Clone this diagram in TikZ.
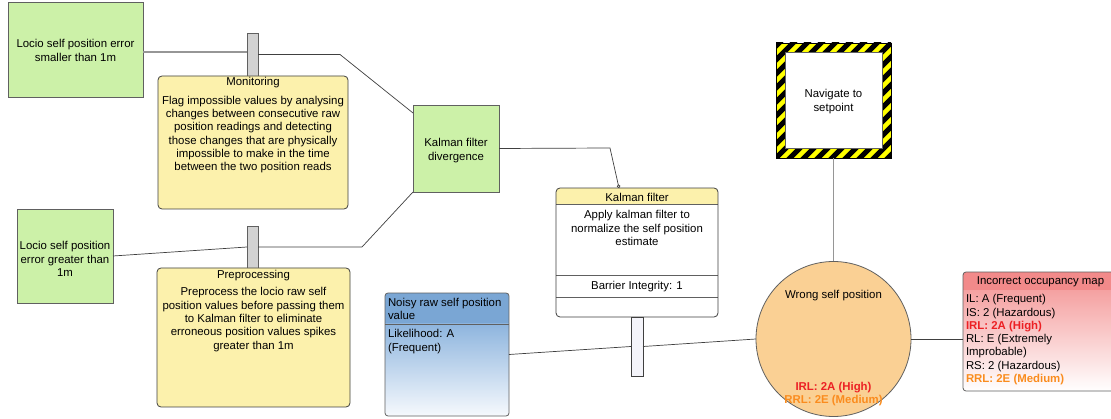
\documentclass[tikz,border=0pt]{standalone}
\usepackage{fontspec}
\setmainfont{Liberation Sans}
\usetikzlibrary{arrows.meta}

\definecolor{causefill}{RGB}{204,241,168}
\definecolor{barrierfill}{RGB}{252,241,172}
\definecolor{topfill}{RGB}{250,208,148}
\definecolor{riskred}{RGB}{236,32,36}
\definecolor{riskorange}{RGB}{250,140,30}
\definecolor{threathead}{RGB}{122,166,212}
\definecolor{threattop}{RGB}{142,181,222}
\definecolor{threatbot}{RGB}{246,249,253}
\definecolor{conshead}{RGB}{242,138,138}
\definecolor{constop}{RGB}{245,162,162}
\definecolor{hazyellow}{RGB}{255,255,0}
\definecolor{edge}{RGB}{96,96,96}
\definecolor{wire}{RGB}{64,64,64}
\definecolor{wirelight}{RGB}{150,150,150}
\definecolor{barfill}{RGB}{210,210,210}
\definecolor{kbarfill}{RGB}{244,244,250}

\begin{document}
\begin{tikzpicture}[x=1pt,y=-1pt,
  every node/.style={font=\fontsize{11.4}{13.3}\selectfont, inner sep=0pt, outer sep=0pt},
  cause/.style={draw=edge, line width=0.8pt, fill=causefill, align=center},
  barrier/.style={draw=wire, line width=0.8pt, fill=barrierfill, rounded corners=4pt},
  barbox/.style={draw=edge, line width=0.8pt, fill=barfill, minimum width=11pt},
  kbar/.style={draw=wire, line width=0.8pt, fill=kbarfill, minimum width=12pt, minimum height=59pt},
  wireline/.style={draw=wire, line width=0.7pt},
  lightwire/.style={draw=wirelight, line width=1.3pt},
  txt/.style={yshift=-1pt},
  bodytext/.style={txt, align=center},
  listtext/.style={txt, align=left, anchor=north west}]

\clip (0,0) rectangle (1111,419);
\fill[white] (0,0) rectangle (1111,419);

% causes
\node[cause, minimum width=135pt, minimum height=95pt] (g1) at (75.5,49.5) {};
\node[bodytext] (g1T) at (g1) {Locio self position error\\smaller than 1m};
\node[cause, minimum width=96pt, minimum height=94pt] (g2) at (65,256) {};
\node[bodytext] (g2T) at (65,258) {Locio self position\\error greater than\\1m};
\node[cause, minimum width=86pt, minimum height=87pt] (kfd) at (456,148.5) {};
\node[bodytext] (kfdT) at (456,149.5) {Kalman filter\\divergence};

% barrier stems
\node[barbox, minimum height=43pt] (mbar) at (252.5,54.5) {};
\node[barbox, minimum height=42pt] (pbar) at (252.5,247) {};

% Monitoring barrier
\node[barrier, minimum width=190pt, minimum height=133pt] (mon) at (253,142.5) {};
\node[txt] (monT) at (253,82) {Monitoring};
\node[bodytext] (monB) at (253,133.5)
  {Flag impossible values by analysing\\changes between consecutive raw\\position readings and detecting\\those changes that are physically\\impossible to make in the time\\between the two position reads};

% Preprocessing barrier
\node[barrier, minimum width=193pt, minimum height=139pt] (pre) at (253.5,337.5) {};
\node[txt] (preT) at (253.5,275) {Preprocessing};
\node[bodytext] (preB) at (253.5,318.5)
  {Preprocess the locio raw self\\position values before passing them\\to Kalman filter to eliminate\\erroneous position values spikes\\greater than 1m};

% Kalman filter barrier
\begin{scope}
  \clip[rounded corners=4pt] (556,188) rectangle (718,317);
  \fill[white] (556,188) rectangle (718,317);
  \fill[barrierfill] (556,188) rectangle (718,204);
\end{scope}
\draw[edge, line width=0.8pt] (556,204) -- (718,204) (556,275) -- (718,275) (556,297) -- (718,297);
\node[draw=wire, line width=0.8pt, rounded corners=4pt, minimum width=162pt, minimum height=129pt] (kf) at (637,252.5) {};
\node[txt] (kfT) at (637,196) {Kalman filter};
\node[bodytext] (kfB) at (637,227) {Apply kalman filter to\\normalize the self position\\estimate};
\node[txt] (kfI) at (637,286) {Barrier Integrity: 1};
\node[kbar] (kbarn) at (637,346.5) {};

% threat
\begin{scope}
  \clip[rounded corners=3pt] (385,293) rectangle (509,416);
  \fill[threathead] (385,293) rectangle (509,324);
  \shade[top color=threattop, bottom color=threatbot] (385,324) rectangle (509,416);
\end{scope}
\draw[edge, line width=0.8pt] (385,324) -- (509,324);
\node[draw=edge, line width=0.8pt, rounded corners=3pt, minimum width=124pt, minimum height=123pt] (noisy) at (447,354.5) {};
\node[listtext] (noisyT) at (388,297) {Noisy raw self position\\value};
\node[listtext] (noisyB) at (388,328.5) {Likelihood: A\\(Frequent)};

% top event
\node[circle, draw=edge, line width=0.8pt, fill=topfill, minimum size=155pt] (top) at (833.5,339) {};
\node[txt] (topT) at (833.5,295) {Wrong self position};
\node[txt, text=riskred, font=\fontsize{11.4}{13.3}\selectfont\bfseries] (topI) at (833.5,387) {IRL: 2A (High)};
\node[txt, text=riskorange, font=\fontsize{11.4}{13.3}\selectfont\bfseries] (topR) at (833.5,399.5) {RRL: 2E (Medium)};

% hazard
\node[minimum width=115pt, minimum height=115pt] (nav) at (833.5,100.5) {};
\begin{scope}
  \clip (776,43) rectangle (891,158);
  \fill[hazyellow] (776,43) rectangle (891,158);
  \foreach \a in {-154,-140,...,154}
    \draw[black, line width=5pt] ({833.5+(\a)-70},170.5) -- ({833.5+(\a)+70},30.5);
\end{scope}
\fill[white] (785,52) rectangle (882,148);
\draw[edge, line width=0.6pt] (785,52) rectangle (882,148);
\draw[black, line width=0.8pt] (776,43) rectangle (891,158);
\node[bodytext] (navT) at (833.5,100.5) {Navigate to\\setpoint};

% consequence
\begin{scope}
  \clip[rounded corners=3pt] (963,272) rectangle (1118,391);
  \fill[conshead] (963,272) rectangle (1118,291);
  \shade[top color=constop, bottom color=white] (963,291) rectangle (1118,391);
\end{scope}
\node[draw=edge, line width=0.8pt, rounded corners=3pt, minimum width=155pt, minimum height=119pt] (iom) at (1040.5,331.5) {};
\node[txt] (iomT) at (1040.5,281) {Incorrect occupancy map};
\node[listtext] (iomB) at (966,293.5)
  {IL: A (Frequent)\\IS: 2 (Hazardous)\\{\bfseries\color{riskred}IRL: 2A (High)}\\RL: E (Extremely\\Improbable)\\RS: 2 (Hazardous)\\{\bfseries\color{riskorange}RRL: 2E (Medium)}};

% connectors
\draw[lightwire] (g1.east |- 0,52) -- (mbar.west |- 0,52);
\draw[wireline] (mbar.east) -- ++(82,0) -- ([yshift=-8pt]kfd.north west);
\draw[wireline] (g2.east) -- (pbar.west);
\draw[wireline] (pbar.east) -- ++(104,0) -- (kfd.south west);
\draw[wireline, -{Circle[open,length=3.5pt,width=3.5pt]}] (kfd.east) -- (610,148) -- ([xshift=-18pt]kf.north);
\draw[wireline] (noisy.east) -- (kbarn.west);
\draw[wireline] (kbarn.east) -- (top.west);
\draw[lightwire] (nav.south) -- (top.north);
\draw[wireline] (top.east) -- (top.east -| iom.west);

\end{tikzpicture}
\end{document}
